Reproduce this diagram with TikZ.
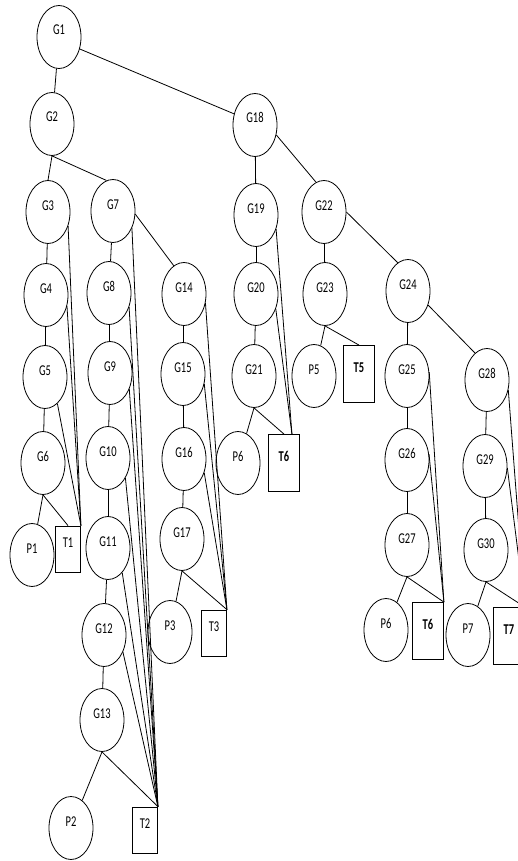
\documentclass[tikz,border=0pt]{standalone}
\usepackage{fontspec}
\setmainfont{Carlito}[FakeStretch=0.7]
\usetikzlibrary{shapes.geometric, calc}

\begin{document}
\begin{tikzpicture}[
      x=1pt, y=-1pt,
      line width=0.8pt,
      every node/.style={font=\fontsize{15}{16}\selectfont, inner sep=0pt,
                         text height=10pt, text depth=14pt},
      gate/.style={draw, ellipse, minimum width=44pt, minimum height=63pt},
      term/.style={draw, rectangle, minimum width=25pt, minimum height=46pt},
      bigterm/.style={term, minimum width=31pt, minimum height=57pt,
                      font=\fontsize{15}{16}\selectfont\bfseries},
    ]
    \useasboundingbox (0, 0) rectangle (518, 861);
    \clip (0, 0) rectangle (518, 861);

    % left half of the tree
    \node[gate] (g1)  at (59, 37)   {G1};
    \node[gate] (g2)  at (52, 124)  {G2};
    \node[gate] (g3)  at (48, 212)  {G3};
    \node[gate] (g4)  at (46, 295)  {G4};
    \node[gate] (g5)  at (45, 377)  {G5};
    \node[gate] (g6)  at (43, 463)  {G6};
    \node[gate] (p1)  at (32, 555)  {P1};
    \node[term] (t1)  at (68, 549)  {T1};
    \node[gate] (g7)  at (113, 211) {G7};
    \node[gate] (g8)  at (109, 293) {G8};
    \node[gate] (g9)  at (110, 373) {G9};
    \node[gate] (g10) at (108, 458) {G10};
    \node[gate] (g11) at (108, 548) {G11};
    \node[gate] (g12) at (104, 635) {G12};
    \node[gate] (g13) at (102, 720) {G13};
    \node[gate] (p2)  at (71, 828)  {P2};
    \node[term] (t2)  at (145, 830) {T2};
    \node[gate] (g14) at (184, 294) {G14};
    \node[gate] (g15) at (183, 374) {G15};
    \node[gate] (g16) at (184, 459) {G16};
    \node[gate] (g17) at (182, 539) {G17};
    \node[gate] (p3)  at (170, 632) {P3};
    \node[term] (t3)  at (214, 633) {T3};

    % right half of the tree
    \node[gate]    (g18) at (255, 125) {G18};
    \node[gate]    (g19) at (256, 215) {G19};
    \node[gate]    (g20) at (256, 294) {G20};
    \node[gate]    (g21) at (254, 376) {G21};
    \node[gate]    (p6a) at (238, 463) {P6};
    \node[bigterm] (t6a) at (284, 463) {T6};
    \node[gate]    (g22) at (324, 212) {G22};
    \node[gate]    (g23) at (325, 294) {G23};
    \node[gate]    (p5)  at (314, 376) {P5};
    \node[bigterm] (t5)  at (359, 374) {T5};
    \node[gate]    (g24) at (408, 291) {G24};
    \node[gate]    (g25) at (407, 376) {G25};
    \node[gate]    (g26) at (407, 460) {G26};
    \node[gate]    (g27) at (407, 545) {G27};
    \node[gate]    (p6b) at (386, 630) {P6};
    \node[bigterm] (t6b) at (428, 631) {T6};
    \node[gate]    (g28) at (487, 380) {G28};
    \node[gate]    (g29) at (485, 466) {G29};
    \node[gate]    (g30) at (486, 550) {G30};
    \node[gate]    (p7)  at (468, 635) {P7};
    \node[bigterm] (t7)  at (509, 636) {T7};

    \coordinate (t6atop) at ($(t6a.north)!0.5!(t6a.north east)$);

    % tree edges
    \draw (g1) -- (g2);
    \draw (g1.-30) -- (g18.152);
    \draw (g2.south) -- (g3.north);
    \draw (g2.south) -- (g7.102);
    \draw (g3) -- (g4);
    \draw (g4) -- (g5);
    \draw (g5) -- (g6);
    \draw (g6.south) -- (p1);
    \draw (g6.south) -- (t1.north);
    \draw (g7) -- (g8);
    \draw (g7.-8) -- (g14.110);
    \draw (g8) -- (g9);
    \draw (g9) -- (g10);
    \draw (g10) -- (g11);
    \draw (g11) -- (g12);
    \draw (g12) -- (g13);
    \draw (g13.south) -- (p2);
    \draw (g13.south) -- (t2.north east);
    \draw (g14) -- (g15);
    \draw (g15) -- (g16);
    \draw (g16) -- (g17);
    \draw (g17.south) -- (p3);
    \draw (g17.south) -- (t3.north east);
    \draw (g18) -- (g19);
    \draw (g18.-25) -- (g22.105);
    \draw (g19) -- (g20);
    \draw (g20) -- (g21);
    \draw (g21.south) -- (p6a);
    \draw (g21.south) -- (t6a.north);
    \draw (g22) -- (g23);
    \draw (g22.east) -- (g24.110);
    \draw (g23.south) -- (p5);
    \draw (g23.south) -- (t5.north);
    \draw (g24) -- (g25);
    \draw (g24.-35) -- (g28.114);
    \draw (g25) -- (g26);
    \draw (g26) -- (g27);
    \draw (g27.south) -- (p6b);
    \draw (g27.south) -- (t6b.north east);
    \draw (g28) -- (g29);
    \draw (g29) -- (g30);
    \draw (g30.south) -- (p7);
    \draw (g30.south) -- (t7.north east);

    % long links down to the terminal boxes
    \draw (g3.-35) -- (t1.north east);
    \draw (g4.-28) -- (t1.north east);
    \draw (g5.-65) -- (t1.north east);
    \draw (g7.-42) -- (t2.north east);
    \draw (g8.-35) -- (t2.north east);
    \draw (g9.-40) -- (t2.north east);
    \draw (g10.-49) -- (t2.north east);
    \draw (g11.-60) -- (t2.north east);
    \draw (g12.-42) -- (t2.north east);
    \draw (g14.-23) -- (t3.north east);
    \draw (g15.-25) -- (t3.north east);
    \draw (g16.-34) -- (t3.north east);
    \draw (g19.-35) -- (t6atop);
    \draw (g20.-37) -- (t6atop);
    \draw (g25.10) -- (t6b.north east);
    \draw (g26.15) -- (t6b.north east);
    \draw (g28.-25) -- (t7.north east);
    \draw (g29.-5) -- (t7.north east);
  \end{tikzpicture}
\end{document}
